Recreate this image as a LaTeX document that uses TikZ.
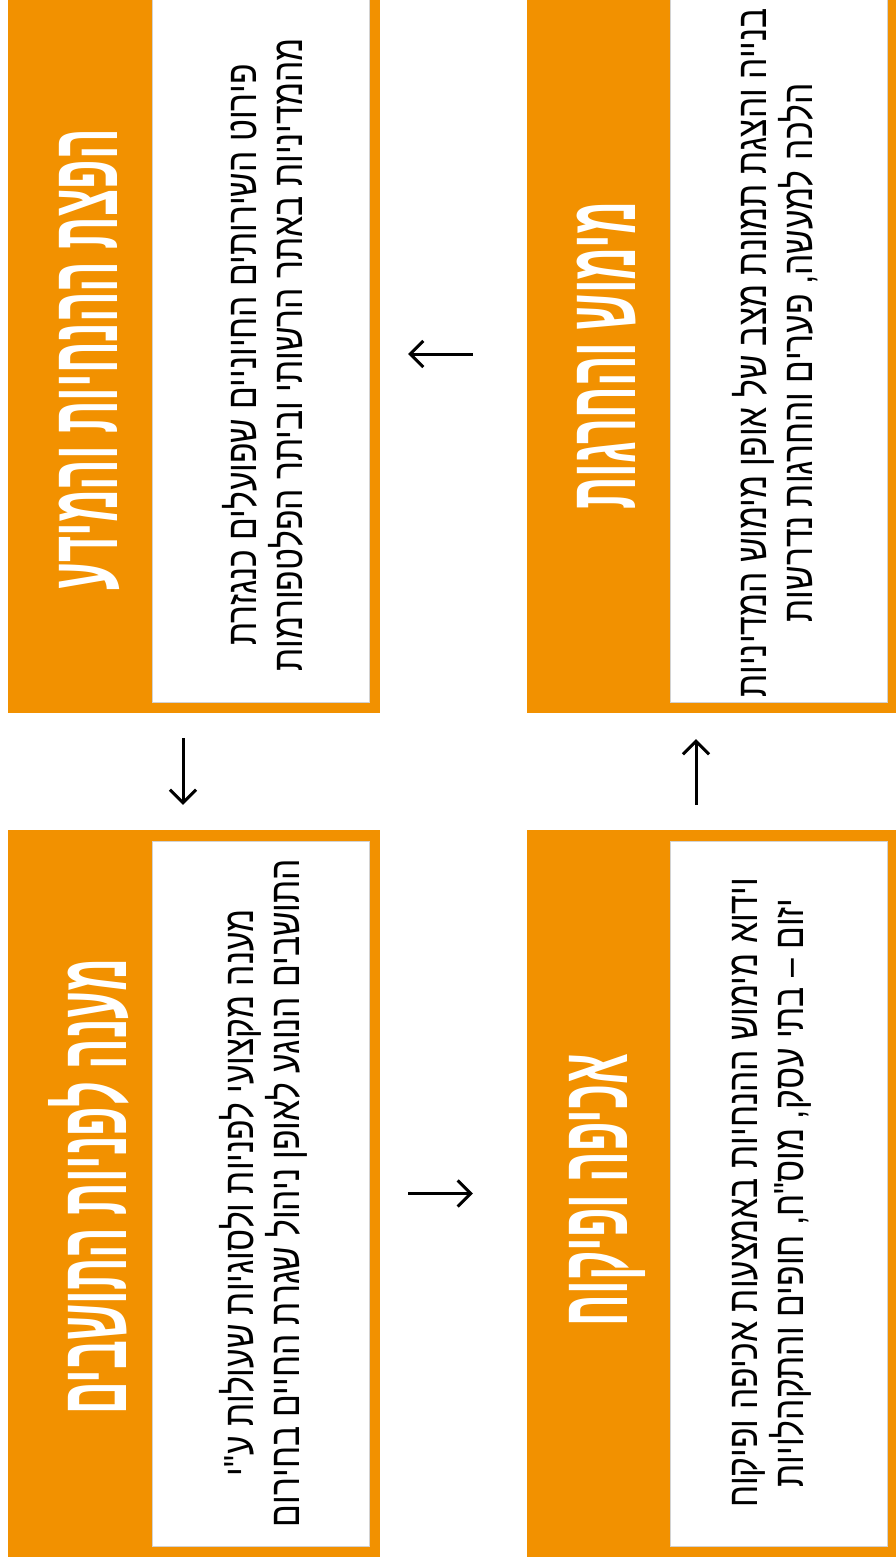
\documentclass[tikz,border=0pt]{standalone}
\usepackage{fontspec}
\usetikzlibrary{arrows.meta}
\TeXXeTstate=1
\newfontfamily\hebbody[Script=Hebrew,FakeStretch=0.8]{Liberation Sans}
\newfontfamily\hebtitle[Script=Hebrew,FakeStretch=0.47]{Liberation Sans Bold}
\definecolor{boxorange}{RGB}{242,145,0}
\definecolor{edgegray}{RGB}{210,210,210}
\tikzset{
  outerbox/.style={rectangle, fill=boxorange, draw=none, minimum width=372pt, minimum height=727pt, inner sep=0pt},
  innerbox/.style={rectangle, fill=white, draw=edgegray, line width=0.8pt, minimum width=217pt, minimum height=705pt, inner sep=0pt},
  titletext/.style={rotate=90, text=white, inner sep=0pt, font=\hebtitle\fontsize{96}{100}\selectfont},
  bodytext/.style={rotate=90, text=black, inner sep=0pt, align=center, font=\hebbody\fontsize{42}{46}\selectfont},
  arr/.style={draw=black, line width=3pt, -{Straight Barb[length=13pt,width=26pt,line width=3pt]}}
}
\begin{document}
\begin{tikzpicture}[x=1pt,y=-1pt]
\useasboundingbox (0,0) rectangle (895,1567);
% boxes
\node[outerbox] (tl) at (194,349.5) {};
\node[outerbox] (tr) at (713,349.5) {};
\node[outerbox] (bl) at (194,1193.5) {};
\node[outerbox] (br) at (713,1193.5) {};
\node[innerbox] (tli) at (260.5,350) {};
\node[innerbox] (tri) at (779,350) {};
\node[innerbox] (bli) at (260.5,1193.5) {};
\node[innerbox] (bri) at (779,1193.5) {};
% titles
\node[titletext] (tlt) at (89,360) {\beginR הפצת ההנחיות והמידע\endR};
\node[titletext] (trt) at (607,356) {\beginR מימוש והחרגות\endR};
\node[titletext] (blt) at (89,1187) {\beginR מענה לפניות התושבים\endR};
\node[titletext] (brt) at (607,1190) {\beginR אכיפה ופיקוח\endR};
% bodies
\node[bodytext] (tlb) at (263,355) {\beginR פירוט השירותים החיוניים שפועלים כנגזרת\endR\\ \beginR מהמדיניות באתר הרשותי וביתר הפלטפורמות\endR};
\node[bodytext] (trb) at (775,353) {\beginR בנייה והצגת תמונת מצב של אופן מימוש המדיניות\endR\\ \beginR הלכה למעשה, פערים והחרגות נדרשות\endR};
\node[bodytext] (blb) at (263,1193) {\beginR מענה מקצועי לפניות ולסוגיות שעולות ע"י\endR\\ \beginR התושבים הנוגע לאופן ניהול שגרת החיים בחירום\endR};
\node[bodytext] (brb) at (772,1193) {\beginR וידוא מימוש ההנחיות באמצעות אכיפה ופיקוח\endR\\ \beginR יזום – בתי עסק, מוס"ח, חופים והתקהלויות\endR};
% arrows
\draw[arr] ([xshift=-11pt,yshift=-25pt]tl.south) -- ([xshift=-11pt,yshift=25pt]bl.north);
\draw[arr] ([xshift=28pt]bl.east) -- ([xshift=-54pt]br.west);
\draw[arr] ([xshift=-17pt,yshift=25pt]br.north) -- ([xshift=-17pt,yshift=-26pt]tr.south);
\draw[arr] ([xshift=-54pt,yshift=-4.5pt]tr.west) -- ([xshift=28pt,yshift=-4.5pt]tl.east);
\end{tikzpicture}
\end{document}
